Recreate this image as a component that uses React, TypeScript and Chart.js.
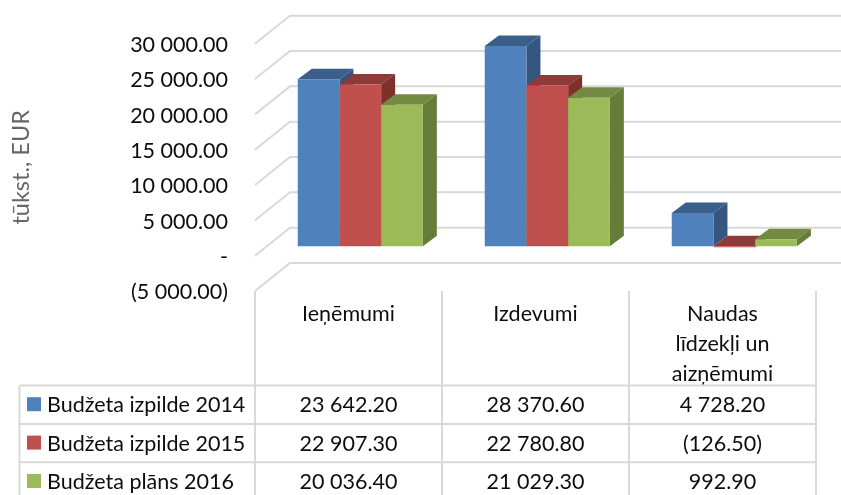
import React, { useEffect, useRef } from "react";
import { Chart, registerables } from "chart.js";

Chart.register(...registerables);

const categories = ["Ieņēmumi", "Izdevumi", ["Naudas", "līdzekļi un", "aizņēmumi"]];
const seriesNames = ["Budžeta izpilde 2014", "Budžeta izpilde 2015", "Budžeta plāns 2016"];
const budget2014 = [23642.2, 28370.6, 4728.2];
const budget2015 = [22907.3, 22780.8, -126.5];
const budget2016 = [20036.4, 21029.3, 992.9];
const allSeries = [budget2014, budget2015, budget2016];
const frontColors = ["#4F81BD", "#C0504D", "#9BBB59"];
const topColors = ["#3A5F8B", "#8E3A38", "#728A42"];
const sideColors = ["#345680", "#7F302D", "#667D3A"];

const FONT = "Lato, sans-serif";
const FONT_SIZE = 21.5;
const GRID = "#D9D9D9";
const TEXT = "#0D0D0D";

// 3D projection of the plot, in pixels
const WALL_DX = 35;
const WALL_DY = -28;
const BAR_DX = 11.8;
const BAR_DY = -9.3;
const DEPTH_DX = 14;
const DEPTH_DY = -10.5;

// data-table layout, in pixels
const TABLE_LEFT = 19.5;
const TABLE_RIGHT = 816;
const TABLE_HEADER_BOTTOM = 385.5;
const ROW_HEIGHT = 38.4;

const fmt = (v: number) => {
  const abs = Math.abs(v).toFixed(2);
  const [i, d] = abs.split(".");
  const s = `${i.replace(/\B(?=(\d{3})+$)/g, " ")}.${d}`;
  return v < 0 ? `(${s})` : s;
};

const axisFmt = (v: number) => (v === 0 ? "-" : fmt(v));

const drawDepth = (ctx: any, meta: any, idx: number) => {
  meta.data.forEach((bar: any) => {
    const x1 = bar.x - bar.width / 2;
    const x2 = bar.x + bar.width / 2;
    const top = Math.min(bar.y, bar.base);
    const bottom = Math.max(bar.y, bar.base);
    ctx.fillStyle = topColors[idx];
    ctx.beginPath();
    ctx.moveTo(x1, top);
    ctx.lineTo(x1 + DEPTH_DX, top + DEPTH_DY);
    ctx.lineTo(x2 + DEPTH_DX, top + DEPTH_DY);
    ctx.lineTo(x2, top);
    ctx.closePath();
    ctx.fill();
    ctx.fillStyle = sideColors[idx];
    ctx.beginPath();
    ctx.moveTo(x2, top);
    ctx.lineTo(x2 + DEPTH_DX, top + DEPTH_DY);
    ctx.lineTo(x2 + DEPTH_DX, bottom + DEPTH_DY);
    ctx.lineTo(x2, bottom);
    ctx.closePath();
    ctx.fill();
  });
};

const wallPlugin = {
  id: "wall",
  beforeDatasetsDraw(chart: any) {
    const { ctx, scales } = chart;
    const y = scales.y;
    const left = chart.chartArea.left;
    ctx.save();
    ctx.strokeStyle = GRID;
    ctx.lineWidth = 2;
    y.ticks.forEach((t: any) => {
      const py = y.getPixelForValue(t.value);
      ctx.beginPath();
      ctx.moveTo(left, py);
      ctx.lineTo(left + WALL_DX, py + WALL_DY);
      ctx.lineTo(chart.width, py + WALL_DY);
      ctx.stroke();
    });
    ctx.restore();
    // Series are painted left to right so each bar's front hides its neighbour's side.
    allSeries.forEach((_, i) => {
      const meta = chart.getDatasetMeta(i);
      ctx.save();
      ctx.translate(BAR_DX, BAR_DY);
      drawDepth(ctx, meta, i);
      meta.controller.draw();
      ctx.restore();
    });
    return false;
  },
  afterDraw(chart: any) {
    const { ctx, scales, height } = chart;
    const x = scales.x;
    const area = chart.chartArea;
    const half = (x.getPixelForValue(1) - x.getPixelForValue(0)) / 2;
    const edges = [0, 1, 2].map((i) => x.getPixelForValue(i) - half);
    edges.push(x.getPixelForValue(2) + half);
    ctx.save();
    ctx.strokeStyle = GRID;
    ctx.lineWidth = 2;
    edges.forEach((ex: number) => {
      ctx.beginPath();
      ctx.moveTo(ex, area.bottom);
      ctx.lineTo(ex, height);
      ctx.stroke();
    });
    ctx.beginPath();
    ctx.moveTo(TABLE_LEFT, TABLE_HEADER_BOTTOM);
    ctx.lineTo(TABLE_LEFT, height);
    ctx.stroke();
    seriesNames.forEach((name, r) => {
      const lineY = TABLE_HEADER_BOTTOM + ROW_HEIGHT * r;
      ctx.beginPath();
      ctx.moveTo(TABLE_LEFT, lineY);
      ctx.lineTo(TABLE_RIGHT, lineY);
      ctx.stroke();
      const cy = lineY + ROW_HEIGHT / 2;
      ctx.fillStyle = frontColors[r];
      ctx.fillRect(27, cy - 7.5, 14, 14);
      ctx.fillStyle = TEXT;
      ctx.font = `${FONT_SIZE}px ${FONT}`;
      ctx.textBaseline = "middle";
      ctx.textAlign = "left";
      ctx.fillText(name, 47, cy + 0.8);
      ctx.textAlign = "center";
      allSeries[r].forEach((v, c) => {
        ctx.fillText(fmt(v), x.getPixelForValue(c), cy + 0.8);
      });
    });
    ctx.restore();
  },
};

export default function App() {
  const ref = useRef<HTMLCanvasElement>(null);
  useEffect(() => {
    const chart = new Chart(ref.current as HTMLCanvasElement, {
      type: "bar",
      data: {
        labels: categories as any,
        datasets: allSeries.map((data, i) => ({
          label: seriesNames[i],
          data,
          backgroundColor: frontColors[i],
          clip: false as any,
          barPercentage: 1,
          categoryPercentage: 0.669,
        })),
      },
      options: {
        responsive: false,
        animation: false,
        layout: { padding: { top: 43.7, right: 25, bottom: 0, left: 0 } },
        plugins: { legend: { display: false }, tooltip: { enabled: false }, title: { display: false } },
        scales: {
          x: {
            grid: { display: false, drawTicks: false },
            border: { display: false },
            afterFit(s: any) {
              s.height = 204;
            },
            ticks: {
              maxRotation: 0,
              minRotation: 0,
              autoSkip: false,
              padding: 8,
              color: TEXT,
              font: { family: FONT, size: FONT_SIZE, lineHeight: 1.39 },
            },
          },
          y: {
            min: -5000,
            max: 30000,
            grid: { display: false, drawTicks: false },
            border: { display: false },
            afterFit(s: any) {
              s.width = 255;
            },
            title: {
              display: true,
              text: "tūkst., EUR",
              color: "#666666",
              font: { family: FONT, size: 23.5 },
              padding: { top: 7.5, bottom: 0 },
            },
            ticks: {
              stepSize: 5000,
              padding: 27,
              labelOffset: 1.5,
              color: TEXT,
              font: { family: FONT, size: FONT_SIZE },
              callback: (v: any) => axisFmt(Number(v)),
            },
          },
        },
      },
      plugins: [wallPlugin],
    });
    return () => chart.destroy();
  }, []);
  return (
    <div style={{ position: "fixed", left: 0, top: 0, width: 841, height: 495, overflow: "hidden", background: "#fff" }}>
      <canvas ref={ref} width={841} height={495} style={{ display: "block", filter: "blur(0.4px)" }} />
    </div>
  );
}
